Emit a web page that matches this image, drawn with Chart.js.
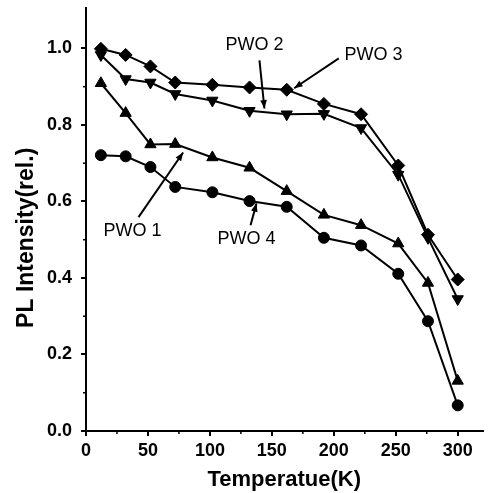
<!DOCTYPE html>
<html>
<head>
<meta charset="utf-8">
<script src="https://cdn.jsdelivr.net/npm/chart.js@4/dist/chart.umd.min.js"></script>
<style>
html,body{margin:0;padding:0;background:#fff;}
#wrap{width:490px;height:493px;position:relative;}
</style>
</head>
<body>
<div id="wrap"><canvas id="c" width="490" height="493"></canvas></div>
<script>
// Temperatures (K)
const temps = [12, 32, 52, 72, 102, 132, 162, 192, 222, 252, 276, 300];
// Series values (relative PL intensity)
const pwo1 = [0.909, 0.831, 0.749, 0.750, 0.715, 0.688, 0.627, 0.565, 0.538, 0.490, 0.387, 0.131];
const pwo2 = [0.983, 0.920, 0.911, 0.881, 0.864, 0.837, 0.828, 0.829, 0.792, 0.670, 0.505, 0.345];
const pwo3 = [0.999, 0.983, 0.953, 0.911, 0.905, 0.898, 0.892, 0.855, 0.828, 0.694, 0.513, 0.396];
const pwo4 = [0.721, 0.718, 0.690, 0.638, 0.624, 0.601, 0.586, 0.505, 0.485, 0.411, 0.287, 0.067];
// Tick labels
const xTicks = [0, 50, 100, 150, 200, 250, 300];
const yTicks = [0.0, 0.2, 0.4, 0.6, 0.8, 1.0];
const xMinor = [25, 75, 125, 175, 225, 275];
const yMinor = [0.1, 0.3, 0.5, 0.7, 0.9];
// Axis titles
const xTitle = 'Temperatue(K)';
const yTitle = 'PL Intensity(rel.)';
// Annotation labels and arrows (in data units)
const annLabels = ['PWO 1', 'PWO 2', 'PWO 3', 'PWO 4'];
const annText = [[37.6, 0.522], [136, 1.008], [232, 0.982], [129.6, 0.501]];
const annFrom = [[42.4, 0.559], [140, 0.969], [204, 0.974], [132.8, 0.538]];
const annTo   = [[78.4, 0.728], [144, 0.843], [168, 0.896], [137.6, 0.595]];

const toXY = (arr) => temps.map((t, i) => ({x: t, y: arr[i]}));
const FONT = '"Liberation Sans", Arial, Helvetica, sans-serif';

const annotPlugin = {
  id: 'annot',
  afterDraw(chart) {
    const ctx = chart.ctx, xs = chart.scales.x, ys = chart.scales.y;
    ctx.save();
    // minor ticks
    ctx.strokeStyle = '#000'; ctx.lineWidth = 1.5;
    const bottom = ys.getPixelForValue(0), left = xs.getPixelForValue(0);
    xMinor.forEach(v => { const px = xs.getPixelForValue(v);
      ctx.beginPath(); ctx.moveTo(px, bottom); ctx.lineTo(px, bottom + 3); ctx.stroke(); });
    yMinor.forEach(v => { const py = ys.getPixelForValue(v);
      ctx.beginPath(); ctx.moveTo(left, py); ctx.lineTo(left - 3, py); ctx.stroke(); });
    // y axis title
    ctx.fillStyle = '#000';
    ctx.save();
    ctx.translate(27, (ys.getPixelForValue(0.505)));
    ctx.rotate(-Math.PI / 2);
    ctx.font = 'bold 23px ' + FONT;
    ctx.textAlign = 'center'; ctx.textBaseline = 'middle';
    ctx.fillText(yTitle, 0, 0);
    ctx.restore();
    // labels
    ctx.font = '18px ' + FONT;
    ctx.textAlign = 'center'; ctx.textBaseline = 'middle';
    annLabels.forEach((t, i) => {
      ctx.fillText(t, xs.getPixelForValue(annText[i][0]), ys.getPixelForValue(annText[i][1]));
      const x1 = xs.getPixelForValue(annFrom[i][0]), y1 = ys.getPixelForValue(annFrom[i][1]);
      const x2 = xs.getPixelForValue(annTo[i][0]), y2 = ys.getPixelForValue(annTo[i][1]);
      ctx.lineWidth = 2;
      ctx.beginPath(); ctx.moveTo(x1, y1); ctx.lineTo(x2, y2); ctx.stroke();
      const a = Math.atan2(y2 - y1, x2 - x1), L = 9, W = 0.38;
      ctx.beginPath();
      ctx.moveTo(x2, y2);
      ctx.lineTo(x2 - L * Math.cos(a - W), y2 - L * Math.sin(a - W));
      ctx.lineTo(x2 - L * Math.cos(a + W), y2 - L * Math.sin(a + W));
      ctx.closePath(); ctx.fill();
    });
    ctx.restore();
  }
};

const ds = (label, data, style, rot) => ({
  label, data: toXY(data), borderColor: '#000', backgroundColor: '#000',
  borderWidth: 2, pointStyle: style, pointRotation: rot || 0,
  pointRadius: style === 'circle' ? 5.5 : 6.5, pointBorderWidth: 1, pointBackgroundColor: '#000',
  pointBorderColor: '#000', tension: 0, fill: false
});

new Chart(document.getElementById('c'), {
  type: 'line',
  data: {
    datasets: [
      ds('PWO 1', pwo1, 'triangle'),
      ds('PWO 2', pwo2, 'triangle', 180),
      ds('PWO 3', pwo3, 'rectRot'),
      ds('PWO 4', pwo4, 'circle')
    ]
  },
  options: {
    responsive: false, animation: false,
    layout: {padding: {top: 7, right: 0, left: 0, bottom: 0}},
    plugins: {legend: {display: false}, tooltip: {enabled: false}},
    scales: {
      x: {
        type: 'linear', min: 0, max: 320,
        afterBuildTicks: s => { s.ticks = xTicks.map(v => ({value: v})); },
        afterFit: s => { s.height = 62; s.paddingLeft = 0; s.paddingRight = 0; },
        border: {display: true, color: '#000', width: 2},
        grid: {display: true, drawOnChartArea: false, drawTicks: true, tickLength: 5, color: '#000', lineWidth: 2},
        ticks: {color: '#000', padding: 4, font: {family: FONT, size: 18, weight: 'bold'}, maxRotation: 0},
        title: {display: true, text: xTitle, color: '#000', padding: {top: 2, bottom: 0},
                font: {family: FONT, size: 22, weight: 'bold'}}
      },
      y: {
        type: 'linear', min: 0, max: 1.107,
        afterBuildTicks: s => { s.ticks = yTicks.map(v => ({value: v})); },
        afterFit: s => { s.width = 86; s.paddingTop = 0; s.paddingBottom = 0; },
        border: {display: true, color: '#000', width: 2},
        grid: {display: true, drawOnChartArea: false, drawTicks: true, tickLength: 5, color: '#000', lineWidth: 2},
        ticks: {color: '#000', padding: 9, font: {family: FONT, size: 18, weight: 'bold'},
                callback: v => v.toFixed(1)},
        title: {display: false}
      }
    }
  },
  plugins: [annotPlugin]
});
</script>
</body>
</html>
